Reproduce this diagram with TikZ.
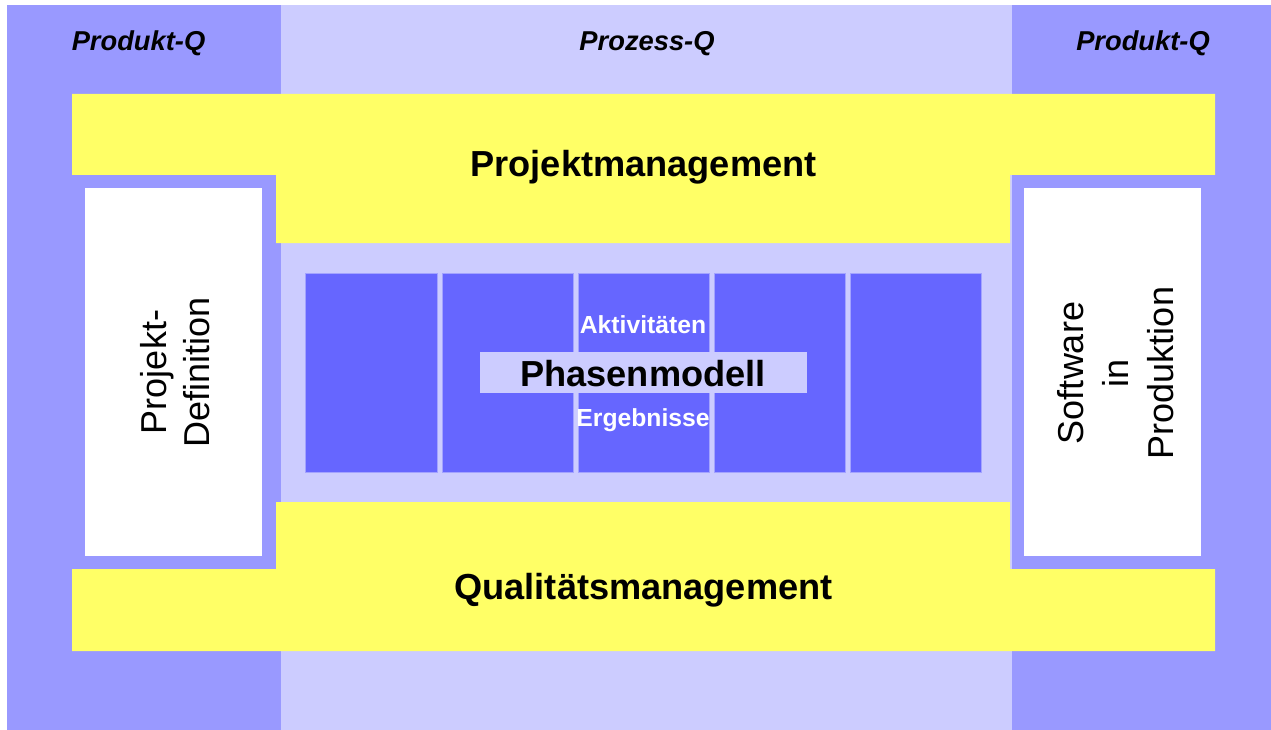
\documentclass[tikz,border=0pt]{standalone}
\usepackage{fontspec}
\setmainfont{Liberation Sans}
\definecolor{darkpurple}{HTML}{9999FF}
\definecolor{lightpurple}{HTML}{CCCCFF}
\definecolor{phaseblue}{HTML}{6666FF}
\definecolor{paleyellow}{HTML}{FFFF66}
\tikzset{
  colhead/.style={font=\fontsize{27.3}{32}\selectfont\bfseries\itshape, anchor=base, inner sep=0pt},
  bandlabel/.style={font=\fontsize{36.2}{42}\selectfont\bfseries, anchor=base, inner sep=0pt},
  sidelabel/.style={font=\fontsize{36}{44}\selectfont, anchor=base, rotate=90, inner sep=0pt},
  phaselabel/.style={font=\fontsize{24.7}{28}\selectfont\bfseries, text=white, anchor=base, inner sep=0pt},
  phasebox/.style={fill=phaseblue, draw=lightpurple!60!phaseblue, line width=0.6pt}
}
\begin{document}
\begin{tikzpicture}[x=1pt,y=-1pt]
\useasboundingbox (0,0) rectangle (1271,730);
\fill[white] (0,0) rectangle (1271,730);
% columns
\fill[darkpurple] (7,5) rectangle (281,730);
\fill[lightpurple] (281,5) rectangle (1012,730);
\fill[darkpurple] (1012,5) rectangle (1271,730);
% yellow bands
\fill[paleyellow] (72,94) -- (1215,94) -- (1215,175) -- (1010,175) -- (1010,243) -- (276,243) -- (276,175) -- (72,175) -- cycle;
\fill[paleyellow] (276,502) -- (1010,502) -- (1010,569) -- (1215,569) -- (1215,651) -- (72,651) -- (72,569) -- (276,569) -- cycle;
% white side boxes
\fill[white] (85,188) rectangle (262,556);
\fill[white] (1024,188) rectangle (1201,556);
% phase boxes
\draw[phasebox] (305,273) rectangle (437,472);
\draw[phasebox] (442,273) rectangle (573,472);
\draw[phasebox] (578,273) rectangle (709,472);
\draw[phasebox] (714,273) rectangle (845,472);
\draw[phasebox] (850,273) rectangle (981,472);
\fill[lightpurple] (480,352) rectangle (807,393);
% texts
\node[colhead] (pq1) at (138.5,51) {Produkt-Q};
\node[colhead] (prq) at (647,51) {Prozess-Q};
\node[colhead] (pq2) at (1143,51) {Produkt-Q};
\node[bandlabel] (pm) at (643.5,177) {Projektmanagement};
\node[bandlabel] (qm) at (643.5,599) {Qualitätsmanagement};
\node[bandlabel] (phm) at (643,386) {Phasenmodell};
\node[phaselabel] (akt) at (643,333) {Aktivitäten};
\node[phaselabel] (erg) at (643,426) {Ergebnisse};
\node[sidelabel] (pd1) at (166,372) {Projekt-};
\node[sidelabel] (pd2) at (209,372) {Definition};
\node[sidelabel] (sp1) at (1083,373) {Software};
\node[sidelabel] (sp2) at (1128,373) {in};
\node[sidelabel] (sp3) at (1173,373) {Produktion};
\end{tikzpicture}
\end{document}
